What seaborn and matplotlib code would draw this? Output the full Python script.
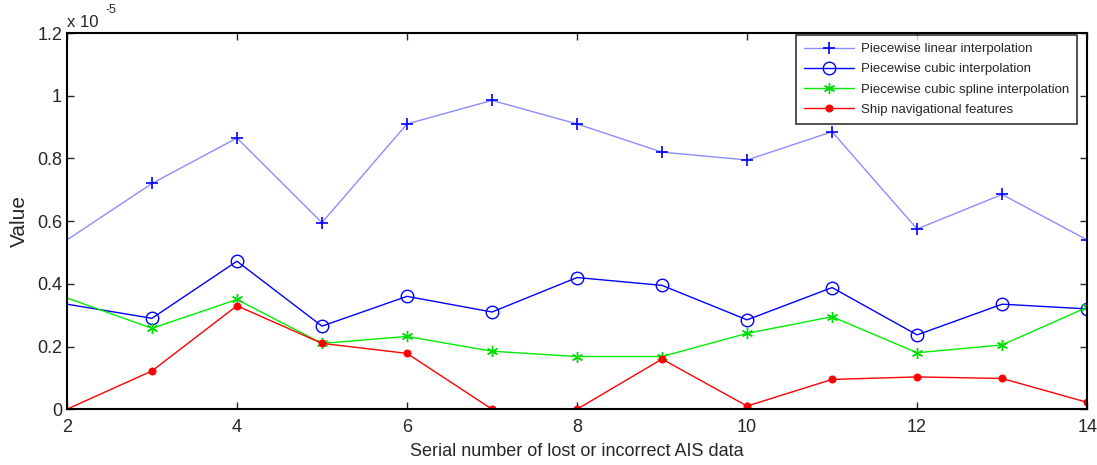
import matplotlib
matplotlib.use("Agg")
import matplotlib.pyplot as plt
import seaborn as sns
import pandas as pd
from matplotlib.ticker import FuncFormatter

# serial numbers on the x axis
serial = [2, 3, 4, 5, 6, 7, 8, 9, 10, 11, 12, 13, 14]

# values in units of 1e-5
linear = [0.54, 0.72, 0.865, 0.595, 0.91, 0.985, 0.91, 0.82, 0.795, 0.885, 0.575, 0.685, 0.54]
cubic = [0.335, 0.29, 0.472, 0.265, 0.36, 0.31, 0.42, 0.395, 0.285, 0.388, 0.237, 0.335, 0.32]
spline = [0.355, 0.258, 0.35, 0.21, 0.232, 0.185, 0.168, 0.168, 0.242, 0.295, 0.18, 0.205, 0.325]
ship = [0.0, 0.122, 0.33, 0.21, 0.178, 0.0, 0.0, 0.16, 0.01, 0.095, 0.103, 0.098, 0.022]

labels = ["Piecewise linear interpolation", "Piecewise cubic interpolation",
          "Piecewise cubic spline interpolation", "Ship navigational features"]

sns.set_style("ticks")
plt.rcParams["font.family"] = ["Liberation Sans", "DejaVu Sans"]

df = pd.DataFrame({"x": serial, "lin": linear, "cub": cubic, "spl": spline, "ship": ship})
scale = 1e-5

fig = plt.figure(figsize=(10.97, 4.65), dpi=100)
ax = fig.add_axes([0.061, 0.120, 0.930, 0.809])

skip = slice(1, None)  # no marker drawn at the left edge
sns.lineplot(x=df["x"], y=df["lin"] * scale, ax=ax, color="#8c8cff", lw=1.0,
             marker="+", markersize=9, markeredgecolor="#0000ff", mew=1.2,
             markevery=skip, label=labels[0])
sns.lineplot(x=df["x"], y=df["cub"] * scale, ax=ax, color="#0000ff", lw=1.0,
             marker="o", markersize=9, markerfacecolor="none", markeredgecolor="#0000ff",
             mew=1.0, markevery=skip, label=labels[1])
sns.lineplot(x=df["x"], y=df["spl"] * scale, ax=ax, color="#00ee00", lw=1.0,
             marker=(6, 2, 0), markersize=8, markeredgecolor="#00dd00", mew=1.0,
             markevery=skip, label=labels[2])
sns.lineplot(x=df["x"], y=df["ship"] * scale, ax=ax, color="#ff0000", lw=1.0,
             marker="o", markersize=5, markerfacecolor="#ff0000", markeredgecolor="#ff0000",
             markevery=skip, label=labels[3])

ax.set_xlim(2, 14)
ax.set_ylim(0, 1.2e-5)
ax.set_xticks(range(2, 15, 2))
ax.set_yticks([i * 0.2e-5 for i in range(7)])
ax.yaxis.set_major_formatter(FuncFormatter(lambda v, p: "%g" % round(v / scale, 2)))
ax.tick_params(direction="in", top=True, right=True, length=5, width=1, labelsize=13)
ax.tick_params(axis="x", pad=7)
for s in ax.spines.values():
    s.set_visible(True)
    s.set_linewidth(1.5)
    s.set_color("black")

# exponent label in the top left corner
ax.text(0.0, 1.008, "x 10", transform=ax.transAxes, fontsize=12, va="bottom", ha="left")
ax.text(0.038, 1.045, "-5", transform=ax.transAxes, fontsize=9, va="bottom", ha="left")
ax.set_xlabel("Serial number of lost or incorrect AIS data", fontsize=13, labelpad=5)
ax.set_ylabel("Value", fontsize=15, labelpad=6)

leg = ax.legend(loc="upper right", bbox_to_anchor=(0.9965, 1.012), fontsize=9.5, frameon=True,
                fancybox=False, handlelength=3.8, handletextpad=0.5, borderpad=0.6,
                labelspacing=0.6)
leg.get_frame().set_edgecolor("black")
leg.get_frame().set_linewidth(1.2)

fig.savefig("out.png", dpi=100)
plt.close(fig)
